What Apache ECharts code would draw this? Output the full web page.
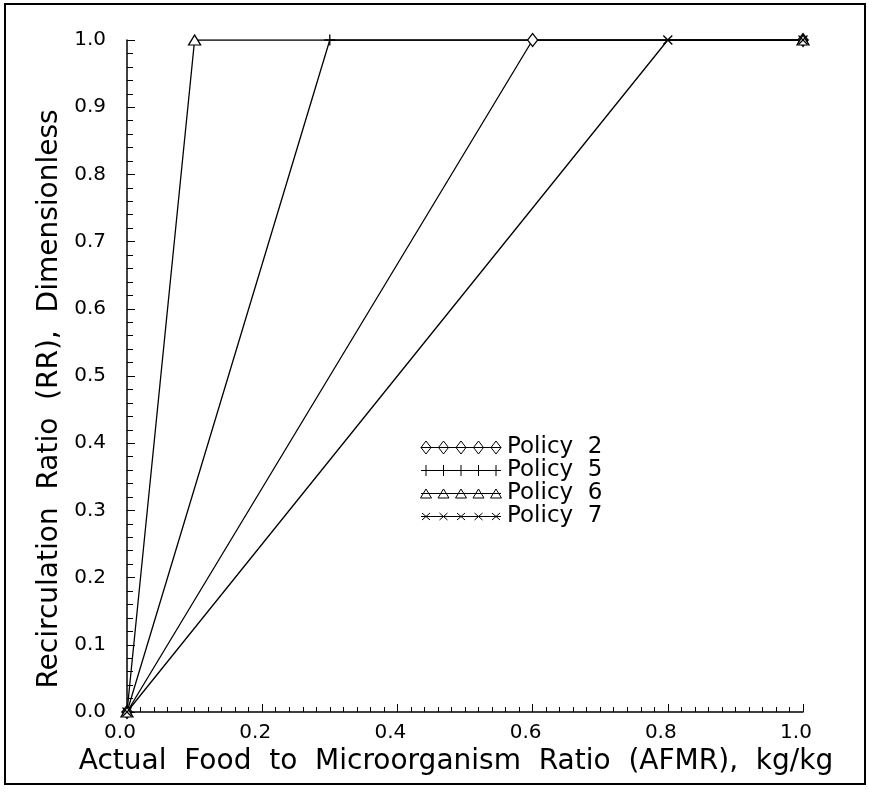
<!DOCTYPE html>
<html>
<head>
<meta charset="utf-8">
<script src="https://cdn.jsdelivr.net/npm/echarts@6/dist/echarts.min.js"></script>
<style>
  body { margin: 0; background: #fff; }
  #chart { width: 869px; height: 795px; }
</style>
</head>
<body>
<div id="chart"></div>
<script>
// AFMR at which each policy reaches RR = 1.0
var policyNames = ["Policy  2", "Policy  5", "Policy  6", "Policy  7"];
var policy2 = [[0.0, 0.0], [0.6, 1.0], [1.0, 1.0]];
var policy5 = [[0.0, 0.0], [0.3, 1.0], [1.0, 1.0]];
var policy6 = [[0.0, 0.0], [0.1, 1.0], [1.0, 1.0]];
var policy7 = [[0.0, 0.0], [0.8, 1.0], [1.0, 1.0]];

var FONT = "DejaVu Sans";

// legend icons: a short line with five markers
function legendIcon(marker) {
  var p = "path://M0 0 M80 14 M0 7 L80 7";
  var xs = [5, 22.5, 40, 57.5, 75];
  for (var i = 0; i < xs.length; i++) {
    var c = xs[i];
    if (marker == "diamond") {
      p += " M" + c + " 0.5 L" + (c + 5) + " 7 L" + c + " 13.5 L" + (c - 5) + " 7 Z";
    } else if (marker == "plus") {
      p += " M" + c + " 1.5 L" + c + " 12.5";
    } else if (marker == "triangle") {
      p += " M" + c + " 2.5 L" + (c + 5.5) + " 11.5 L" + (c - 5.5) + " 11.5 Z";
    } else {
      p += " M" + (c - 4) + " 3.5 L" + (c + 4) + " 10.5 M" + (c + 4) + " 3.5 L" + (c - 4) + " 10.5";
    }
  }
  return p;
}

var plusSym = "path://M0 5 L10 5 M5 0 L5 10";
var crossSym = "path://M0 0 L10 10 M10 0 L0 10";

function makeSeries(name, data, symbol, size) {
  return {
    name: name,
    type: "line",
    data: data,
    symbol: symbol,
    symbolSize: size,
    showAllSymbol: true,
    lineStyle: { color: "#000", width: 1.3 },
    itemStyle: { color: "#fff", borderColor: "#000", borderWidth: 1.3 },
    emphasis: { disabled: true }
  };
}

var legendStyle = { color: "none", borderColor: "#000", borderWidth: 1 };

var chart = echarts.init(document.getElementById("chart"));
chart.setOption({
  animation: false,
  backgroundColor: "#fff",
  graphic: [
    {
      type: "rect",
      shape: { x: 5, y: 4, width: 860, height: 780 },
      style: { fill: "none", stroke: "#000", lineWidth: 2 }
    }
  ],
  grid: { left: 127, right: 66, top: 40, bottom: 83 },
  legend: {
    left: 418,
    top: 436,
    padding: 0,
    orient: "vertical",
    itemWidth: 82,
    itemHeight: 14,
    itemGap: 0,
    textStyle: { fontFamily: FONT, fontSize: 23, color: "#000", padding: [0, 0, 0, 0] },
    data: [
      { name: policyNames[0], icon: legendIcon("diamond"), itemStyle: legendStyle },
      { name: policyNames[1], icon: legendIcon("plus"), itemStyle: legendStyle },
      { name: policyNames[2], icon: legendIcon("triangle"), itemStyle: legendStyle },
      { name: policyNames[3], icon: legendIcon("cross"), itemStyle: legendStyle }
    ]
  },
  xAxis: {
    type: "value",
    min: 0,
    max: 1,
    interval: 0.2,
    name: "Actual  Food  to  Microorganism  Ratio  (AFMR),  kg/kg",
    nameLocation: "middle",
    nameGap: 33,
    nameTextStyle: { fontFamily: FONT, fontSize: 28, color: "#000", padding: [0, 18, 0, 0] },
    axisLine: { lineStyle: { color: "#000", width: 1.5 } },
    axisTick: { inside: true, length: 8, lineStyle: { color: "#000" } },
    minorTick: { show: true, splitNumber: 10, length: 5, lineStyle: { color: "#000" } },
    splitLine: { show: false },
    axisLabel: {
      margin: 11,
      fontFamily: FONT,
      fontSize: 20,
      color: "#000",
      padding: [0, 14, 0, 0],
      formatter: function (v) { return v.toFixed(1); }
    }
  },
  yAxis: {
    type: "value",
    min: 0,
    max: 1,
    interval: 0.1,
    name: "Recirculation  Ratio  (RR),  Dimensionless",
    nameLocation: "middle",
    nameGap: 60,
    nameTextStyle: { fontFamily: FONT, fontSize: 28, color: "#000", padding: [0, 46, 0, 0] },
    axisLine: { show: true, lineStyle: { color: "#000", width: 1.5 } },
    axisTick: { show: true, inside: true, length: 8, lineStyle: { color: "#000" } },
    minorTick: { show: true, splitNumber: 5, length: 6, lineStyle: { color: "#000" } },
    splitLine: { show: false },
    axisLabel: {
      margin: 21,
      fontFamily: FONT,
      fontSize: 20,
      color: "#000",
      formatter: function (v) { return v.toFixed(1); }
    }
  },
  series: [
    makeSeries(policyNames[0], policy2, "diamond", [10, 13]),
    makeSeries(policyNames[1], policy5, plusSym, 11),
    makeSeries(policyNames[2], policy6, "triangle", [12, 10]),
    makeSeries(policyNames[3], policy7, crossSym, 9)
  ]
});
</script>
</body>
</html>
